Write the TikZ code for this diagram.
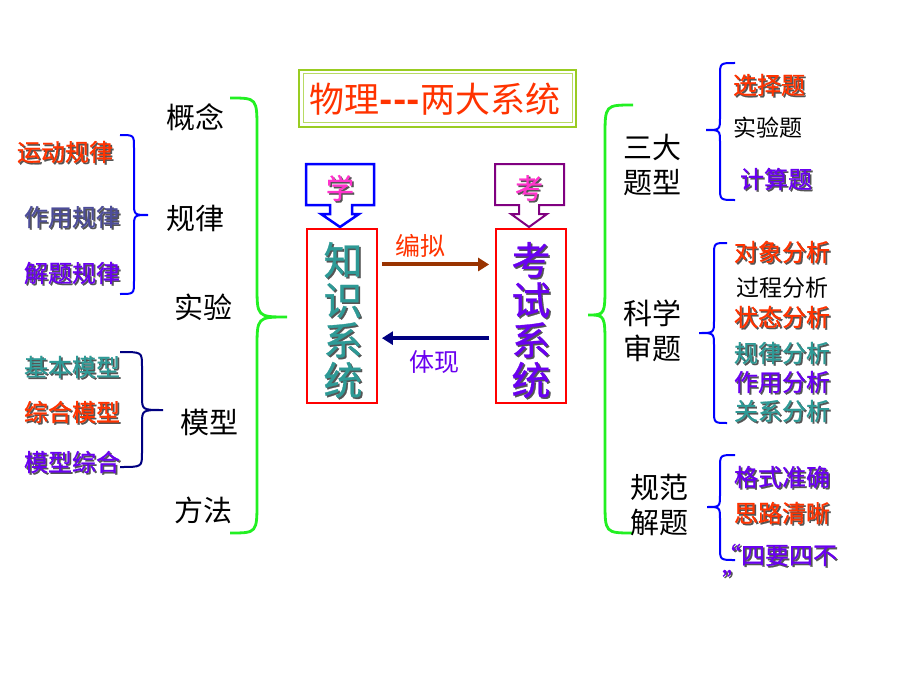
\documentclass[tikz,border=0pt]{standalone}
\usepackage{fontspec}
\newfontfamily\cjk{Noto Sans CJK SC}
\newfontfamily\cjkb{Noto Sans CJK SC}[FakeBold=0.8]
\usetikzlibrary{arrows.meta,calc}
\definecolor{redT}{HTML}{FF3300}
\definecolor{purT}{HTML}{6A00F0}
\definecolor{tealT}{HTML}{2E9A96}
\definecolor{slateT}{HTML}{4D4D99}
\definecolor{magT}{HTML}{FF33CC}
\definecolor{greenB}{HTML}{22F022}
\definecolor{blueB}{HTML}{0000FF}
\definecolor{navyB}{HTML}{000080}
\definecolor{brownA}{HTML}{993300}
\definecolor{titleG}{HTML}{99CC22}
\definecolor{purBox}{HTML}{800080}
\definecolor{shade}{HTML}{555555}
% shadowed text: name, style, x, y, colour, text
\newcommand\shtxt[6]{%
  \node[#2,text=shade] at ({#3+1.6},{#4+1.6}) {#6};
  \node[#2,text=#5] (#1) at (#3,#4) {#6};}
% brace: style, x0, xv, xt, ytop, ymid, ybot, r
\newcommand\brc[8]{%
  \draw[#1] (#2,#5) .. controls (#3,#5) .. (#3,{#5+#8}) -- (#3,{#6-#8})
    .. controls (#3,#6) .. (#4,#6) .. controls (#3,#6) .. (#3,{#6+#8})
    -- (#3,{#7-#8}) .. controls (#3,#7) .. (#2,#7);}
\begin{document}
\begin{tikzpicture}[x=1pt,y=-1pt,
  big/.style={font=\cjk\fontsize{29}{35}\selectfont, align=center, inner sep=0pt},
  small/.style={font=\cjkb\fontsize{24}{28}\selectfont, inner sep=0pt},
  plain/.style={font=\cjk\fontsize{23}{28}\selectfont, inner sep=0pt, text=black},
  vert/.style={font=\cjkb\fontsize{39}{40}\selectfont, align=center, inner sep=0pt},
  mid/.style={font=\cjkb\fontsize{28}{30}\selectfont, inner sep=0pt},
  lbl/.style={font=\cjk\fontsize{25}{30}\selectfont, inner sep=0pt},
  sysbox/.style={draw=red, line width=1.8pt, minimum width=70pt, minimum height=174pt, inner sep=0pt},
  gbrace/.style={draw=greenB, line width=2.8pt},
  bbrace/.style={draw=blueB, line width=2pt},
  nbrace/.style={draw=navyB, line width=2pt},
  fwd/.style={draw=brownA, line width=4pt, -{Triangle[length=11pt,width=13pt]}},
  bwd/.style={draw=navyB, line width=4pt, -{Triangle[length=11pt,width=13pt]}}]
\useasboundingbox[fill=white] (0,0) rectangle (920,690);

% title
\draw[titleG, line width=2pt] (299,70) rectangle (576,127);
\draw[titleG!70, line width=1pt] (303,74) rectangle (572,123);
\node[font=\cjk\fontsize{35}{38}\selectfont, text=redT, inner sep=0pt] (title) at (435,99) {物理{\bfseries -}{\bfseries -}{\bfseries -}两大系统};

% callouts
\draw[blueB, line width=2.5pt, line join=miter] (306,164) -- (374,164) -- (374,205) -- (352,205) -- (352,214) -- (359,214) -- (340,227) -- (321,214) -- (330,214) -- (330,205) -- (306,205) -- cycle;
\shtxt{xue}{mid}{340}{188}{magT}{学}
\draw[purBox, line width=2pt, line join=miter] (495,164) -- (564,164) -- (564,205) -- (539,205) -- (539,214) -- (547,214) -- (529,227) -- (511,214) -- (519,214) -- (519,205) -- (495,205) -- cycle;
\shtxt{kao}{mid}{529}{188}{magT}{考}

% system boxes
\node[sysbox] (zs) at (342,316) {};
\node[sysbox] (ks) at (531,316) {};
\shtxt{zstext}{vert}{343}{320}{tealT}{知\\识\\系\\统}
\shtxt{kstext}{vert}{531}{320}{purT}{考\\试\\系\\统}

% arrows between boxes
\draw[fwd] ($(zs.north east)!0.207!(zs.south east)+(4,0)$) -- ($(ks.north west)!0.207!(ks.south west)+(-6,0)$);
\draw[bwd] ($(ks.north west)!0.626!(ks.south west)+(-6,0)$) -- ($(zs.north east)!0.626!(zs.south east)+(4,0)$);
\node[lbl, text=redT] (bianni) at (420,246) {编拟};
\node[lbl, text=purT] (tixian) at (434,362) {体现};

% left big brace and labels
\brc{gbrace}{230}{257}{287}{98}{317}{533}{32}
\node[big] (gainian) at (195,117) {概念};
\node[big] (guilv) at (195,218) {规律};
\node[big] (shiyan) at (203,307) {实验};
\node[big] (moxing) at (209,422) {模型};
\node[big] (fangfa) at (203,510) {方法};

\brc{bbrace}{120}{134}{148}{135}{215}{294}{13}
\shtxt{l1}{small}{65}{152}{redT}{运动规律}
\shtxt{l2}{small}{72}{217}{slateT}{作用规律}
\shtxt{l3}{small}{72}{273}{purT}{解题规律}

\brc{nbrace}{120}{142}{163}{352}{410}{467}{14}
\shtxt{m1}{small}{72}{367}{tealT}{基本模型}
\shtxt{m2}{small}{72}{412}{redT}{综合模型}
\shtxt{m3}{small}{72}{462}{purT}{模型综合}

% right big brace and labels
\brc{gbrace}{633}{605}{588}{105}{315}{533}{32}
\node[big] (sanda) at (652,165) {三大\\题型};
\node[big] (kexue) at (652,331) {科学\\审题};
\node[big] (guifan) at (659,505) {规范\\解题};

\brc{bbrace}{735}{720}{706}{63}{130}{200}{13}
\shtxt{r1}{small}{769}{85}{redT}{选择题}
\node[plain] (r2) at (768,128) {实验题};
\shtxt{r3}{small}{776}{179}{purT}{计算题}

\brc{bbrace}{727}{714}{699}{243}{333}{423}{13}
\shtxt{a1}{small}{782}{252}{redT}{对象分析}
\node[plain] (a2) at (782,288) {过程分析};
\shtxt{a3}{small}{782}{317}{redT}{状态分析}
\shtxt{a4}{small}{782}{353}{tealT}{规律分析}
\shtxt{a5}{small}{782}{382}{purT}{作用分析}
\shtxt{a6}{small}{782}{411}{tealT}{关系分析}

\brc{bbrace}{735}{720}{707}{455}{507}{560}{13}
\shtxt{b1}{small}{782}{477}{purT}{格式准确}
\shtxt{b2}{small}{782}{513}{redT}{思路清晰}
\shtxt{b3}{small}{777}{555}{purT}{“四要四不}
\shtxt{b4}{small}{734}{580}{purT}{”}
\end{tikzpicture}
\end{document}
